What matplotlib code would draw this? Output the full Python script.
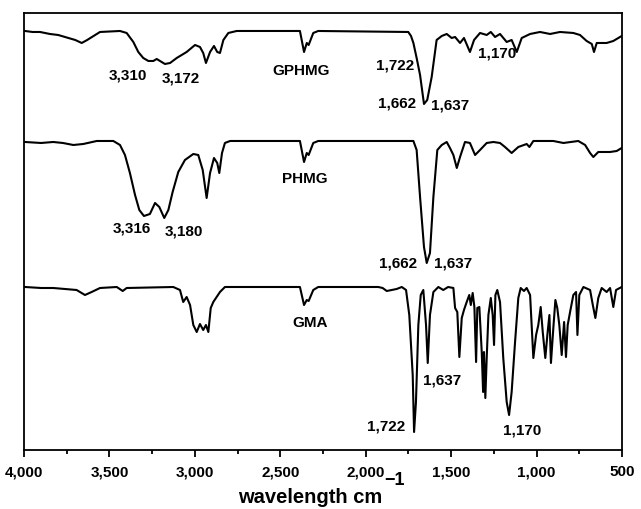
"""FTIR-spektrid: GPHMG, PHMG ja GMA (nihutatud kõverad ühel teljel)."""

import matplotlib
matplotlib.use("Agg")
import matplotlib.pyplot as plt
from matplotlib.ticker import MultipleLocator, FuncFormatter

plt.rcParams.update({
    "font.family": ["Liberation Sans", "DejaVu Sans"],
    "font.weight": "bold",
})

# --- andmed (lainearv cm^-1, nihutatud intensiivsus) ---
gphmg_w = [3994, 3950, 3906, 3848, 3800, 3760, 3700, 3662, 3630, 3602, 3555, 3438,
           3399, 3360, 3331, 3302, 3272, 3243, 3223, 3204, 3175, 3145, 3106, 3048,
           2999, 2970, 2951, 2935, 2911, 2888, 2869, 2853, 2833, 2804, 2755, 2385,
           2361, 2345, 2334, 2307, 2278, 1751, 1735, 1721, 1702, 1682, 1659, 1640,
           1614, 1585, 1555, 1526, 1497, 1477, 1448, 1425, 1390, 1366, 1331, 1292,
           1268, 1243, 1214, 1175, 1146, 1116, 1087, 1038, 980, 921, 863, 785,
           746, 707, 677, 664, 648, 590, 551, 502]
gphmg_y = [419, 418, 418, 416, 415, 413, 410, 407, 410, 413, 418, 419,
           417, 408, 398, 392, 389, 389, 391, 389, 386, 387, 392, 398,
           405, 403, 397, 387, 398, 404, 398, 397, 410, 417, 419, 419,
           398, 407, 405, 417, 419, 418, 414, 407, 392, 375, 346, 350,
           373, 410, 414, 416, 412, 413, 407, 412, 398, 410, 417, 415,
           418, 413, 416, 408, 410, 398, 412, 416, 418, 416, 418, 417,
           415, 409, 406, 398, 407, 407, 409, 414]

phmg_w = [3994, 3900, 3829, 3772, 3711, 3653, 3574, 3477, 3438, 3409, 3380, 3350,
          3325, 3298, 3263, 3233, 3208, 3179, 3155, 3130, 3097, 3058, 3009, 2980,
          2954, 2931, 2911, 2888, 2869, 2857, 2841, 2824, 2794, 2385, 2361, 2345,
          2334, 2307, 2278, 1721, 1702, 1682, 1659, 1643, 1624, 1604, 1581, 1555,
          1526, 1507, 1487, 1467, 1448, 1419, 1390, 1360, 1331, 1292, 1253, 1214,
          1185, 1146, 1107, 1058, 1042, 1019, 902, 843, 756, 716, 687, 668,
          639, 570, 531, 502]
phmg_y = [308, 307, 308, 307, 305, 306, 309, 309, 305, 295, 277, 255,
          240, 234, 236, 247, 243, 232, 240, 258, 278, 290, 296, 295,
          280, 252, 277, 292, 287, 277, 297, 307, 309, 309, 288, 297,
          295, 307, 309, 309, 300, 253, 203, 187, 197, 253, 300, 305,
          308, 302, 295, 282, 293, 308, 307, 295, 300, 307, 308, 307,
          303, 297, 303, 306, 303, 309, 309, 307, 309, 305, 297, 293,
          298, 298, 299, 302]

gma_w = [3994, 3900, 3829, 3760, 3692, 3643, 3604, 3555, 3457, 3422, 3399, 3126,
         3087, 3068, 3048, 3028, 3009, 2989, 2970, 2951, 2935, 2921, 2907, 2892,
         2853, 2824, 2385, 2361, 2345, 2334, 2307, 2278, 1926, 1901, 1877, 1819,
         1789, 1764, 1745, 1725, 1717, 1706, 1692, 1678, 1663, 1647, 1637, 1624,
         1604, 1575, 1546, 1518, 1487, 1477, 1464, 1452, 1438, 1425, 1409, 1394,
         1385, 1374, 1364, 1354, 1347, 1335, 1321, 1313, 1308, 1300, 1292, 1282,
         1268, 1257, 1249, 1241, 1230, 1214, 1195, 1175, 1161, 1146, 1126, 1107,
         1093, 1074, 1058, 1038, 1019, 1003, 990, 976, 964, 949, 937, 925,
         916, 902, 890, 879, 867, 853, 839, 828, 818, 804, 785, 769,
         761, 750, 726, 687, 671, 656, 639, 619, 590, 570, 551, 535, 502]
gma_y = [163, 162, 162, 161, 160, 155, 158, 162, 163, 159, 162, 163,
         160, 148, 153, 145, 125, 118, 126, 120, 125, 118, 142, 148,
         158, 163, 163, 145, 150, 149, 160, 163, 163, 162, 159, 161,
         163, 160, 135, 75, 18, 48, 125, 155, 160, 125, 87, 135,
         158, 163, 160, 163, 162, 142, 138, 93, 132, 140, 148, 155,
         145, 157, 143, 88, 142, 143, 98, 58, 98, 52, 92, 135,
         152, 135, 105, 155, 160, 148, 92, 48, 35, 58, 108, 152,
         162, 159, 162, 155, 92, 115, 125, 143, 118, 92, 115, 135,
         87, 122, 150, 142, 125, 95, 128, 93, 125, 138, 155, 158,
         115, 155, 163, 160, 145, 132, 152, 162, 158, 162, 143, 160, 163]

# --- sildid: (tekst, lainearv, y) ---
peak_labels = [
    ("3,310", 3394, 374), ("3,172", 3080, 371), ("GPHMG", 2379, 379),
    ("1,722", 1826, 384), ("1,662", 1814, 346), ("1,637", 1507, 344),
    ("1,170", 1229, 396),
    ("3,316", 3368, 221), ("3,180", 3064, 218), ("PHMG", 2355, 271),
    ("1,662", 1810, 186), ("1,637", 1489, 186),
    ("GMA", 2326, 127), ("1,637", 1555, 70), ("1,722", 1881, 24),
    ("1,170", 1082, 20),
]

fig = plt.figure(figsize=(6.41, 5.09), dpi=100)
ax = fig.add_axes([0.0374, 0.1159, 0.933, 0.8586])

for w, y in [(gphmg_w, gphmg_y), (phmg_w, phmg_y), (gma_w, gma_y)]:
    ax.plot(w, y, color="black", lw=1.5, solid_joinstyle="round")

for tekst, w, y in peak_labels:
    ax.text(w, y, tekst, ha="center", va="center", fontsize=11, fontweight="bold")

ax.set_xlim(4000, 500)
ax.set_ylim(0, 437)
ax.set_yticks([])
ax.xaxis.set_major_locator(MultipleLocator(500))
ax.xaxis.set_minor_locator(MultipleLocator(250))
ax.xaxis.set_major_formatter(FuncFormatter(lambda v, p: f"{int(v):,}"))
ax.tick_params(axis="x", which="major", direction="out", length=5, width=1.3,
               labelsize=11, pad=6)
ax.tick_params(axis="x", which="minor", direction="out", length=3, width=1.3)
for s in ax.spines.values():
    s.set_linewidth(1.3)
for lab in ax.get_xticklabels():
    lab.set_fontweight("bold")

# telje nimi: ülaindeks on peaaegu sama suur kui põhitekst
fig.text(0.596, 0.012, "wavelength cm", ha="right", va="baseline",
         fontsize=14.5, fontweight="bold")
fig.text(0.600, 0.047, "\u22121", ha="left", va="baseline",
         fontsize=13, fontweight="bold")

fig.savefig("out.png", dpi=100)
